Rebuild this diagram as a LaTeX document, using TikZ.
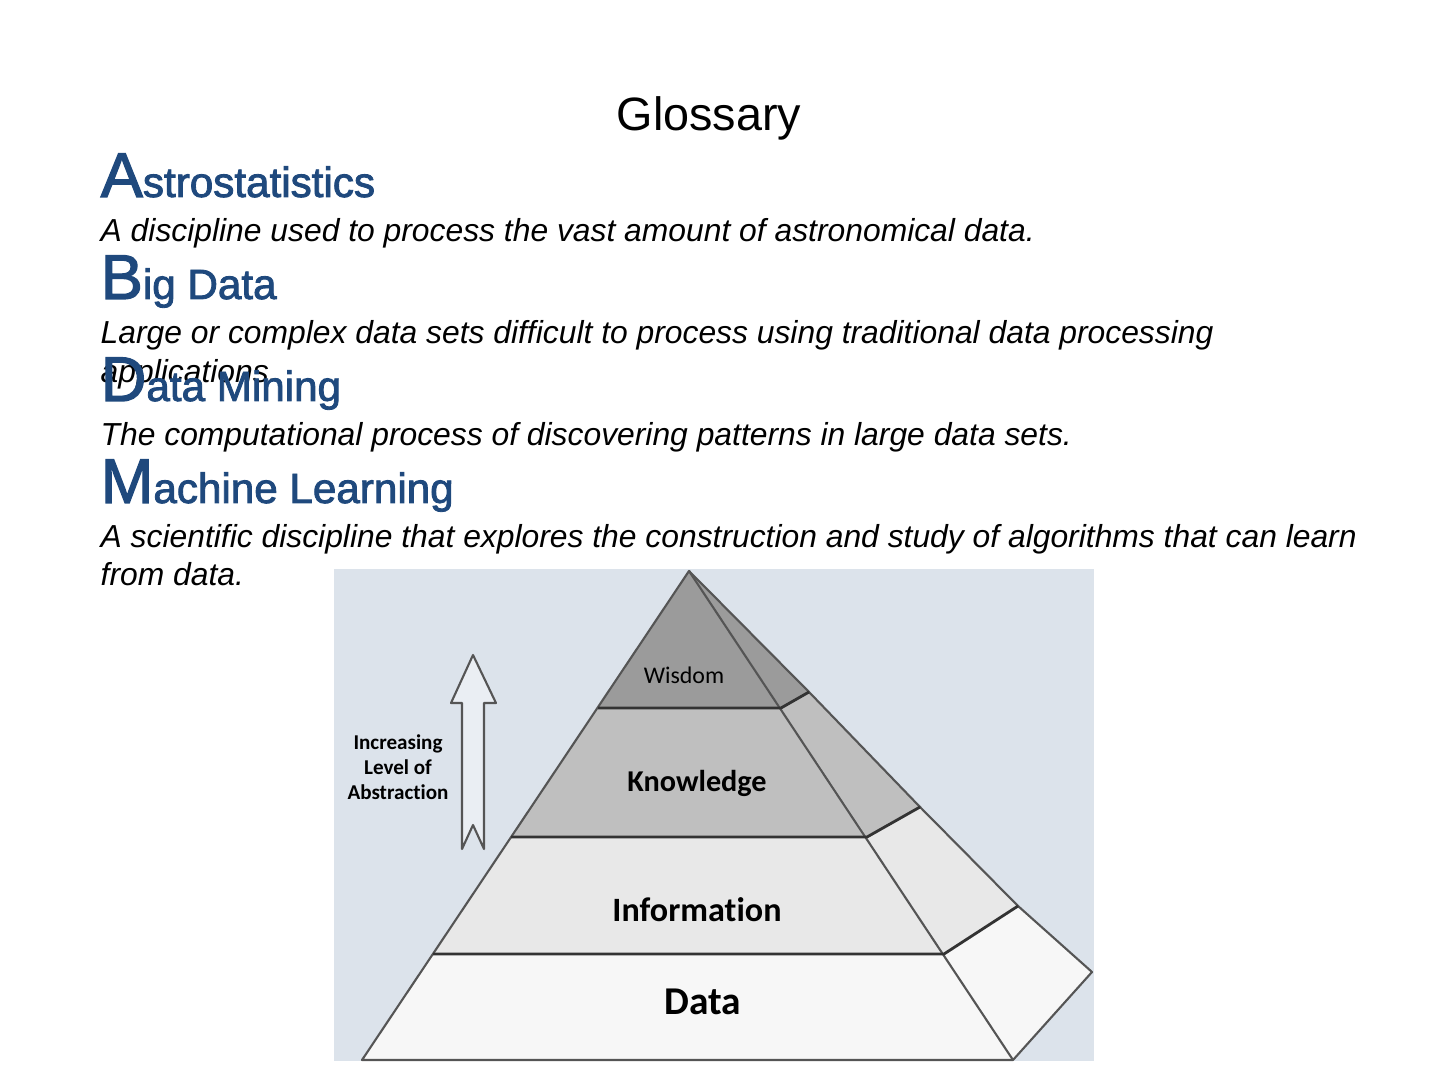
\documentclass[tikz,border=0pt]{standalone}
\usepackage{fontspec}
\setmainfont{Liberation Sans}
\newfontfamily\headfont[FakeBold=2]{Liberation Sans}
\newfontfamily\calfont[Ligatures=NoCommon]{Carlito}
\usetikzlibrary{positioning}

\tikzset{
  heading/.style={anchor=base west, inner sep=0pt, text=headblue, font=\headfont\fontsize{12}{12}\selectfont},
  glosstext/.style={anchor=base west, inner sep=0pt, font=\fontsize{9.05}{9.05}\selectfont\itshape},
  layer/.style={anchor=base, inner sep=0pt, font=\calfont\bfseries},
  edge/.style={draw=edgegray, line width=0.6pt, line join=round},
  divider/.style={draw=black!80, line width=0.8pt}
}
\newcommand{\bigini}[1]{{\fontsize{18}{18}\selectfont #1}}

\begin{document}
\begin{tikzpicture}[x=0.01cm, y=-0.01cm]
    % Colores
    \definecolor{headblue}{RGB}{31,73,125}
    \definecolor{bgblue}{RGB}{220,227,235}
    \definecolor{edgegray}{RGB}{85,85,85}
    \definecolor{wisdomfill}{RGB}{155,155,155}
    \definecolor{knowfill}{RGB}{191,191,191}
    \definecolor{infofill}{RGB}{232,232,232}
    \definecolor{datafill}{RGB}{247,247,247}

    \useasboundingbox (0,0) rectangle (1440,1080);

    % Titulo
    \node[anchor=base, inner sep=0pt, font=\fontsize{13.3}{13.3}\selectfont] (title) at (709,131) {Glossary};

    % Entradas del glosario
    \node[heading] (astro) at (100,197) {\bigini{A}strostatistics};
    \node[glosstext] (astrodef) at (100,242) {A discipline used to process the vast amount of astronomical data.};

    \node[heading] (bigdata) at (100,299) {\bigini{B}ig Data};
    \node[glosstext] (bigdef) at (100,344) {Large or complex data sets difficult to process using traditional data processing};
    \node[glosstext] (bigdef2) at (100,383) {applications.};

    \node[heading] (mining) at (100,401) {\bigini{D}ata Mining};
    \node[glosstext] (miningdef) at (100,446) {The computational process of discovering patterns in large data sets.};

    \node[heading] (ml) at (100,503) {\bigini{M}achine Learning};
    \node[glosstext] (mldef) at (100,548) {A scientific discipline that explores the construction and study of algorithms that can learn};
    \node[glosstext] (mldef2) at (100,586) {from data.};

    % Fondo de la figura
    \fill[bgblue] (334,569) rectangle (1094,1061);

    % Puntos de la piramide
    \coordinate (apex) at (689,571);
    \coordinate (wl) at (598,708);  \coordinate (wr) at (781,708);  \coordinate (ws) at (809,692);
    \coordinate (kl) at (511,837);  \coordinate (kr) at (867,837);  \coordinate (ks) at (920,807);
    \coordinate (il) at (433,954);  \coordinate (ir) at (944,954);  \coordinate (is) at (1018,906);
    \coordinate (dl) at (362,1060); \coordinate (dr) at (1013,1060); \coordinate (ds) at (1092,972);

    % Capa Wisdom
    \fill[wisdomfill] (apex) -- (wr) -- (wl) -- cycle;
    \fill[wisdomfill] (apex) -- (ws) -- (wr) -- cycle;
    % Capa Knowledge
    \fill[knowfill] (wl) -- (wr) -- (kr) -- (kl) -- cycle;
    \fill[knowfill] (wr) -- (ws) -- (ks) -- (kr) -- cycle;
    % Capa Information
    \fill[infofill] (kl) -- (kr) -- (ir) -- (il) -- cycle;
    \fill[infofill] (kr) -- (ks) -- (is) -- (ir) -- cycle;
    % Capa Data
    \fill[datafill] (il) -- (ir) -- (dr) -- (dl) -- cycle;
    \fill[datafill] (ir) -- (is) -- (ds) -- (dr) -- cycle;

    % Aristas
    \path[edge] (apex) -- (dl) -- (dr) -- (ds) -- (is) -- (ks) -- (ws) -- cycle;
    \path[edge] (apex) -- (dr);
    \path[divider] (wl) -- (wr) -- (ws);
    \path[divider] (kl) -- (kr) -- (ks);
    \path[divider] (il) -- (ir) -- (is);

    % Etiquetas de capas
    \node[layer, font=\calfont\fontsize{6.8}{6.8}\selectfont] (wisdom) at (684,683) {Wisdom};
    \node[layer, font=\calfont\bfseries\fontsize{8.6}{8.6}\selectfont] (knowledge) at (697,791) {Knowledge};
    \node[layer, font=\calfont\bfseries\fontsize{9.7}{9.7}\selectfont] (information) at (697,921) {Information};
    \node[layer, font=\calfont\bfseries\fontsize{11.2}{11.2}\selectfont] (data) at (703,1014) {Data};

    % Flecha de abstraccion
    \path[edge, fill=bgblue!60!white] (473,655) -- (496,703) -- (484,703) -- (484,849) -- (473,825)
        -- (462,849) -- (462,703) -- (451,703) -- cycle;
    \node[anchor=base, inner sep=0pt, align=center, font=\calfont\bfseries\fontsize{6}{7}\selectfont] (abstraction) at (398,799)
        {Increasing\\Level of\\Abstraction};
\end{tikzpicture}
\end{document}
